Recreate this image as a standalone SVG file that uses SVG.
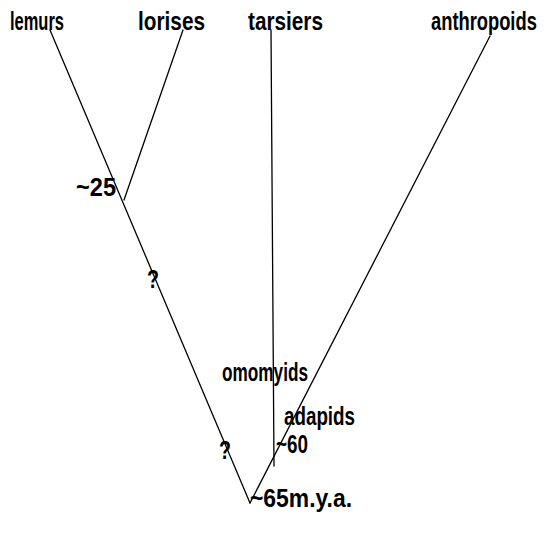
<svg xmlns="http://www.w3.org/2000/svg" width="551" height="538" viewBox="0 0 551 538">
<style>
.t{font-family:"Liberation Sans Narrow","Liberation Sans",sans-serif;font-weight:bold;font-size:26px;fill:#000}
.l{stroke:#000;stroke-width:1.3;fill:none;stroke-linecap:round}
</style>
<rect width="551" height="538" fill="#fff"/>
<g id="connectors">
<line class="l" x1="50" y1="30" x2="250" y2="503"/>
<line class="l" x1="183" y1="30" x2="124" y2="200"/>
<line class="l" x1="271" y1="30" x2="274" y2="466"/>
<line class="l" x1="490" y1="36" x2="250" y2="503"/>
</g>
<g id="lemurs"><text class="t" x="10" y="30" textLength="54" lengthAdjust="spacingAndGlyphs">lemurs</text></g>
<g id="lorises"><text class="t" x="138" y="30" textLength="67" lengthAdjust="spacingAndGlyphs">lorises</text></g>
<g id="tarsiers"><text class="t" x="248" y="30" textLength="75" lengthAdjust="spacingAndGlyphs">tarsiers</text></g>
<g id="anthropoids"><text class="t" transform="translate(431 30) scale(0.72 1)" x="0" y="0" textLength="147" lengthAdjust="spacingAndGlyphs">anthropoids</text></g>
<g id="n25"><text class="t" x="76" y="196" textLength="40" lengthAdjust="spacingAndGlyphs">~25</text></g>
<g id="q1"><text class="t" x="147" y="288" textLength="12" lengthAdjust="spacingAndGlyphs">?</text></g>
<g id="q2"><text class="t" x="219" y="459" textLength="12" lengthAdjust="spacingAndGlyphs">?</text></g>
<g id="omomyids"><text class="t" x="222" y="381" textLength="86" lengthAdjust="spacingAndGlyphs">omomyids</text></g>
<g id="adapids"><text class="t" x="284" y="425" textLength="71" lengthAdjust="spacingAndGlyphs">adapids</text></g>
<g id="n60"><text class="t" x="276" y="453" textLength="32" lengthAdjust="spacingAndGlyphs">~60</text></g>
<g id="n65"><text class="t" x="250" y="507" textLength="102" lengthAdjust="spacingAndGlyphs">~65m.y.a.</text></g>
</svg>
